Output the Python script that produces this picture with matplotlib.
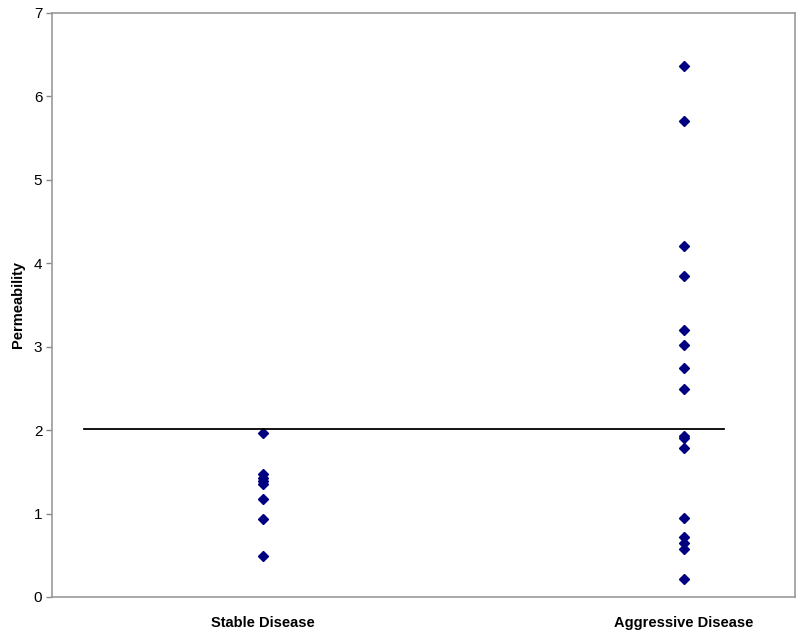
import matplotlib
matplotlib.use("Agg")
import matplotlib.pyplot as plt

plt.rcParams['font.family'] = ['Liberation Sans', 'DejaVu Sans']

categories = ["Stable Disease", "Aggressive Disease"]
stable = [1.96, 1.47, 1.43, 1.39, 1.35, 1.17, 0.94, 0.49]
aggressive = [6.36, 5.70, 4.21, 3.85, 3.20, 3.02, 2.74, 2.49,
              1.93, 1.91, 1.79, 0.95, 0.72, 0.65, 0.58, 0.22]
threshold = 2.01
y_ticks = [0, 1, 2, 3, 4, 5, 6, 7]

fig = plt.figure(figsize=(8, 6.42), dpi=100)
ax = fig.add_axes([0.065, 0.0701, 0.929, 0.9099])

ax.plot([1] * len(stable), stable, linestyle='none', marker='D',
        markersize=5.5, color='#000080', markeredgecolor='#000080')
ax.plot([2] * len(aggressive), aggressive, linestyle='none', marker='D',
        markersize=5.5, color='#000080', markeredgecolor='#000080')
ax.plot([0.575, 2.095], [threshold, threshold], color='black', linewidth=1.3)

ax.set_xlim(0.5, 2.265)
ax.set_ylim(0, 7)
ax.set_yticks(y_ticks)
ax.set_yticklabels([str(t) for t in y_ticks], fontsize=11)
ax.set_xticks([1, 2])
ax.set_xticklabels(categories, fontsize=10.5, fontweight='bold')
ax.tick_params(axis='x', length=0, pad=14)
ax.tick_params(axis='y', length=4, color='#888888', width=1, pad=3)
for s in ax.spines.values():
    s.set_color('#999999')
    s.set_linewidth(1.2)
ax.set_ylabel("Permeability", fontsize=10.5, fontweight='bold', labelpad=6)

fig.savefig("out.png", dpi=100)
